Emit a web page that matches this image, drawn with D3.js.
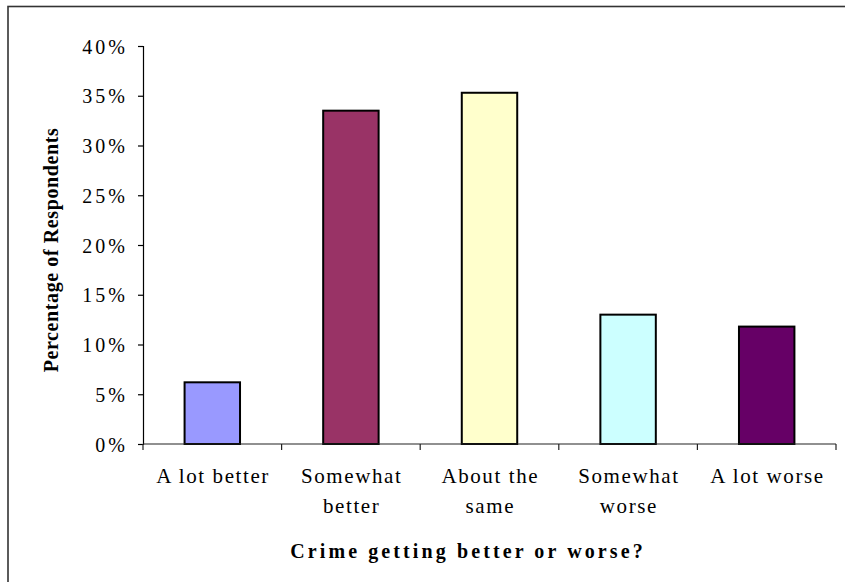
<!DOCTYPE html>
<html>
<head>
<meta charset="utf-8">
<script src="https://cdn.jsdelivr.net/npm/d3@7"></script>
<style>
  html, body { margin: 0; padding: 0; background: #fff; }
  svg { display: block; }
  svg text { font-family: "Liberation Serif", Tinos, "Times New Roman", Times, "DejaVu Serif", serif !important; fill: #000; }
</style>
</head>
<body>
<svg id="chart" width="845" height="582"></svg>
<script>
const categories = ["A lot better", "Somewhat better", "About the same", "Somewhat worse", "A lot worse"];
const categoryLines = [["A lot better"], ["Somewhat", "better"], ["About the", "same"], ["Somewhat", "worse"], ["A lot worse"]];
const values = [6.2, 33.5, 35.3, 13.0, 11.8];
const barColors = ["#9999FF", "#993366", "#FFFFCC", "#CCFFFF", "#660066"];
const yTicks = [0, 5, 10, 15, 20, 25, 30, 35, 40];
const yTitle = "Percentage of Respondents";
const xTitle = "Crime getting better or worse?";

const FONT = "'Liberation Serif', Tinos, 'Times New Roman', Times, 'DejaVu Serif', serif";
const svg = d3.select("#chart");

// outer frame
svg.append("rect")
  .attr("x", 8).attr("y", 6.5).attr("width", 860).attr("height", 600)
  .attr("fill", "none").attr("stroke", "#333").attr("stroke-width", 1.6);

const plotLeft = 143, plotRight = 836, plotTop = 46, plotBottom = 444;

const x = d3.scaleBand().domain(categories).range([plotLeft, plotRight])
  .paddingInner(0.6).paddingOuter(0.3);
const y = d3.scaleLinear().domain([0, 40]).range([plotBottom, plotTop]);

// bars
svg.selectAll("rect.bar").data(values).enter().append("rect")
  .attr("class", "bar")
  .attr("x", (d, i) => x(categories[i]))
  .attr("y", d => y(d))
  .attr("width", x.bandwidth())
  .attr("height", d => y(0) - y(d))
  .attr("fill", (d, i) => barColors[i])
  .attr("stroke", "#000").attr("stroke-width", 2);

// y axis
const yAxis = d3.axisLeft(y).tickValues(yTicks).tickSize(5).tickPadding(10)
  .tickFormat(d => d + "%");
const gy = svg.append("g").attr("transform", `translate(${plotLeft},0)`).call(yAxis);
gy.attr("font-family", FONT);
gy.select(".domain").attr("stroke", "#000").attr("stroke-width", 1.2);
gy.selectAll(".tick line").attr("stroke", "#000").attr("stroke-width", 1.2);
gy.selectAll(".tick text")
  .style("font-family", FONT)
  .attr("font-size", 20).attr("letter-spacing", "3px").attr("fill", "#000")
  .attr("dy", "0.35em");

// x axis (ticks at band boundaries)
const xAxisG = svg.append("g").attr("transform", `translate(0,${plotBottom})`);
xAxisG.append("line").attr("x1", plotLeft).attr("x2", plotRight).attr("y1", 0).attr("y2", 0)
  .attr("stroke", "#222").attr("stroke-width", 1.2);
const boundaries = categories.map(c => x(c) - x.step() * x.paddingInner() / 2);
boundaries.push(plotRight);
xAxisG.selectAll("line.tk").data(boundaries).enter().append("line")
  .attr("class", "tk")
  .attr("x1", d => d).attr("x2", d => d).attr("y1", 0).attr("y2", 6)
  .attr("stroke", "#222").attr("stroke-width", 1.2);

// category labels
categories.forEach((c, i) => {
  const cx = x(c) + x.bandwidth() / 2;
  const t = svg.append("text")
    .style("font-family", FONT)
    .attr("text-anchor", "middle")
    .attr("font-size", 21).attr("letter-spacing", "1.6px");
  categoryLines[i].forEach((ln, j) => {
    t.append("tspan").attr("x", cx + 0.8).attr("y", 483 + j * 30).text(ln);
  });
});

// axis titles
svg.append("text")
  .style("font-family", FONT)
  .attr("transform", `translate(58,250) rotate(-90)`)
  .attr("text-anchor", "middle")
  .attr("font-size", 20).attr("font-weight", "bold").attr("letter-spacing", "0.6px")
  .text(yTitle);

svg.append("text")
  .style("font-family", FONT)
  .attr("x", 468).attr("y", 558)
  .attr("text-anchor", "middle")
  .attr("font-size", 20).attr("font-weight", "bold").attr("letter-spacing", "3.1px")
  .text(xTitle);
</script>
</body>
</html>
